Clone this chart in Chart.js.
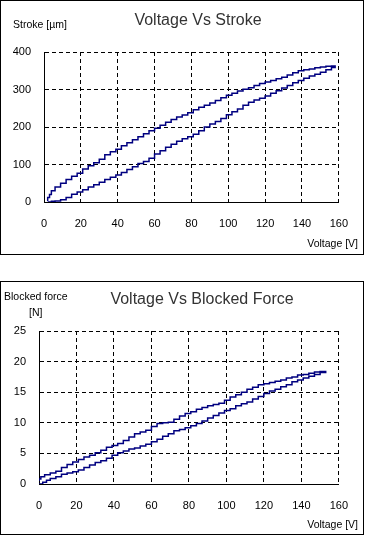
<!DOCTYPE html>
<html>
<head>
<meta charset="utf-8">
<script src="https://cdn.jsdelivr.net/npm/chart.js@4.4.0/dist/chart.umd.min.js"></script>
<style>
  body { margin: 0; background: #fff; width: 365px; height: 538px; position: relative; overflow: hidden;
         font-family: "Liberation Sans", Arial, sans-serif; }
  .box { position: absolute; left: 0; width: 364px; box-sizing: border-box; border: 1px solid #000; }
  #boxStroke { top: 0; height: 255px; }
  #boxForce { top: 281px; height: 254px; }
  .box canvas { position: absolute; left: 0; top: 0; }
  .title { position: absolute; font-size: 16px; line-height: 16px; color: #333; white-space: nowrap; transform: translateX(-50%); }
  .lbl { position: absolute; font-size: 10.5px; line-height: 10.5px; color: #000; white-space: nowrap; }
</style>
</head>
<body>
<div class="box" id="boxStroke"><canvas id="strokeChart" width="362" height="253"></canvas></div>
<div class="box" id="boxForce"><canvas id="forceChart" width="362" height="252"></canvas></div>

<div class="title" style="left:198px; top:12px;">Voltage Vs Stroke</div>
<div class="lbl" style="left:13px; top:19px;">Stroke [µm]</div>
<div class="lbl" style="right:7px; top:238px;">Voltage [V]</div>

<div class="title" style="left:202px; top:291px;">Voltage Vs Blocked Force</div>
<div class="lbl" style="left:4px; top:291px;">Blocked force</div>
<div class="lbl" style="left:29px; top:307px;">[N]</div>
<div class="lbl" style="right:7px; top:519px;">Voltage [V]</div>

<script>
// tick labels
const voltageTicks = [0, 20, 40, 60, 80, 100, 120, 140, 160];
const strokeTicks = [0, 100, 200, 300, 400];
const forceTicks = [0, 5, 10, 15, 20, 25];

// Voltage vs Stroke: rising branch
const strokeVoltUp = [2, 4, 6, 9, 12, 15, 18, 21, 24, 27, 30, 33, 36, 39, 42, 45, 48, 51, 54, 57,
    60, 63, 66, 69, 72, 75, 78, 81, 84, 87, 90, 93, 96, 99, 102, 105, 108, 111, 114, 117,
    120, 123, 126, 129, 132, 135, 138, 141, 144, 147, 150, 153, 156, 158];
const strokeUp = [0, 2, 3, 6, 12, 21, 27, 33, 40, 46, 53, 60, 66, 72, 79, 87, 94, 103, 108, 117,
    128, 137, 146, 154, 162, 169, 174, 181, 190, 200, 208, 215, 223, 233, 241, 248, 258, 266, 272, 277,
    283, 290, 297, 304, 311, 318, 324, 330, 336, 341, 346, 353, 359, 363];
// falling branch
const strokeVoltDown = [156, 153, 150, 147, 144, 141, 138, 135, 132, 129, 126, 123, 120, 117, 114, 111, 108, 105, 102, 99,
    96, 93, 90, 87, 84, 81, 78, 75, 72, 69, 66, 63, 60, 57, 54, 51, 48, 45, 42, 39,
    36, 33, 30, 27, 24, 21, 18, 15, 12, 9, 6, 4, 3, 2];
const strokeDown = [362, 360, 358, 355, 353, 350, 345, 339, 333, 329, 324, 320, 316, 311, 305, 301, 296, 290, 285, 278,
    271, 264, 258, 253, 246, 238, 232, 227, 220, 213, 205, 197, 190, 182, 174, 166, 158, 150, 141, 134,
    126, 114, 105, 97, 88, 77, 69, 60, 50, 40, 30, 20, 12, 3];

// Voltage vs Blocked Force: rising branch
const forceVoltUp = [0, 2, 4, 6, 9, 12, 15, 18, 21, 24, 27, 30, 33, 36, 39, 42, 45, 48, 51, 54,
    57, 60, 63, 66, 69, 72, 75, 78, 81, 84, 87, 90, 93, 96, 99, 102, 105, 108, 111, 114,
    117, 120, 123, 126, 129, 132, 135, 138, 141, 144, 147, 150, 153];
const forceUp = [0, 0.3, 0.6, 0.9, 1.2, 1.6, 1.8, 2.0, 2.3, 2.7, 3.1, 3.5, 3.8, 4.2, 4.7, 5.1, 5.4, 5.7, 5.9, 6.2,
    6.5, 6.9, 7.3, 7.8, 8.2, 8.7, 8.9, 9.2, 9.5, 9.9, 10.3, 10.8, 11.2, 11.6, 12.0, 12.3, 12.8, 13.1, 13.4, 13.9,
    14.3, 14.8, 15.2, 15.5, 15.9, 16.2, 16.7, 17.0, 17.3, 17.6, 17.9, 18.2, 18.4];
// falling branch
const forceVoltDown = [150, 147, 144, 141, 138, 135, 132, 129, 126, 123, 120, 117, 114, 111, 108, 105, 102, 99, 96, 93,
    90, 87, 84, 81, 78, 75, 72, 69, 66, 63, 60, 57, 54, 51, 48, 45, 42, 39, 36, 33,
    30, 27, 24, 21, 18, 15, 12, 9, 6, 3, 1, 0];
const forceDown = [18.3, 18.1, 17.9, 17.8, 17.5, 17.3, 17.0, 16.8, 16.6, 16.4, 16.2, 15.8, 15.5, 15.0, 14.6, 14.2, 13.7, 13.2, 13.0, 12.8,
    12.5, 12.2, 11.8, 11.5, 11.1, 10.6, 10.1, 10.0, 9.9, 9.4, 8.8, 8.5, 8.2, 7.7, 7.1, 6.6, 6.3, 6.0, 5.5, 5.1,
    4.7, 4.4, 4.0, 3.6, 3.2, 2.7, 2.1, 1.8, 1.5, 1.2, 0.8, 0.5];

function loop(vUp, yUp, vDown, yDown) {
    const pts = vUp.map((v, i) => ({ x: v, y: yUp[i] }));
    return pts.concat(vDown.map((v, i) => ({ x: v, y: yDown[i] })));
}

const tickFont = { family: '"Liberation Sans", Arial, sans-serif', size: 11 };

function axis(ticks, size, isX) {
    return {
        type: 'linear',
        min: ticks[0],
        max: ticks[ticks.length - 1],
        ticks: { stepSize: ticks[1] - ticks[0], color: '#000', font: tickFont, padding: isX ? 15 : 13 },
        grid: { color: '#000', lineWidth: 1, drawTicks: false },
        border: { display: true, color: '#000', width: 1, dash: [4, 3] },
        afterFit: s => { if (isX) s.height = size; else s.width = size; }
    };
}

function makeChart(id, data, yTicks, yWidth, xHeight, padTop) {
    return new Chart(document.getElementById(id), {
        type: 'line',
        data: {
            datasets: [{
                data: data,
                borderColor: '#000080',
                borderWidth: 1.5,
                pointRadius: 0,
                fill: false,
                stepped: true
            }]
        },
        options: {
            responsive: false,
            animation: false,
            layout: { padding: { top: padTop, right: 21, left: 0, bottom: 0 } },
            scales: {
                x: axis(voltageTicks, xHeight, true),
                y: axis(yTicks, yWidth, false)
            },
            plugins: { legend: { display: false }, tooltip: { enabled: false } }
        }
    });
}

makeChart('strokeChart', loop(strokeVoltUp, strokeUp, strokeVoltDown, strokeDown), strokeTicks, 43, 52, 51);
makeChart('forceChart', loop(forceVoltUp, forceUp, forceVoltDown, forceDown), forceTicks, 38, 50, 49);
</script>
</body>
</html>
